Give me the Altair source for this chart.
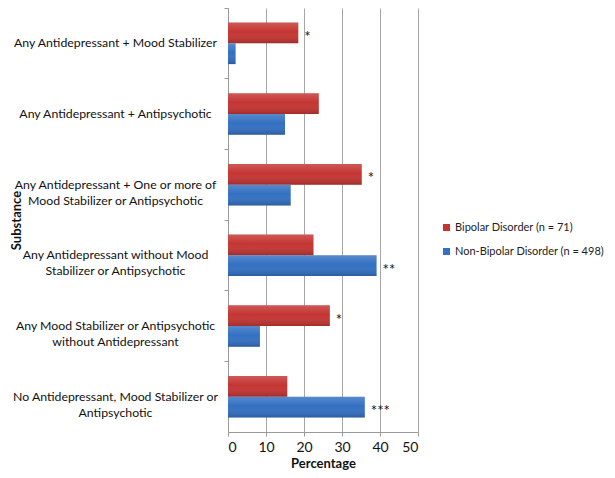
import altair as alt
import pandas as pd

categories = [
    "Any Antidepressant + Mood Stabilizer",
    "Any Antidepressant + Antipsychotic",
    "Any Antidepressant + One or more of\nMood Stabilizer or Antipsychotic",
    "Any Antidepressant without Mood\nStabilizer or Antipsychotic",
    "Any Mood Stabilizer or Antipsychotic\nwithout Antidepressant",
    "No Antidepressant, Mood Stabilizer or\nAntipsychotic",
]
series_names = ["Bipolar Disorder (n = 71)", "Non-Bipolar Disorder (n = 498)"]
bipolar = [18.5, 23.9, 35.2, 22.5, 26.8, 15.6]
non_bipolar = [2.0, 15.0, 16.5, 39.1, 8.4, 36.0]
bipolar_sig = ["*", "", "*", "", "*", ""]
non_bipolar_sig = ["", "", "", "**", "", "***"]
x_ticks = [0, 10, 20, 30, 40, 50]
series_colors = ["#c43532", "#3370c2"]

rows = []
for i, c in enumerate(categories):
    rows.append({"cat": c, "series": series_names[0], "value": bipolar[i], "sig": bipolar_sig[i]})
    rows.append({"cat": c, "series": series_names[1], "value": non_bipolar[i], "sig": non_bipolar_sig[i]})
df = pd.DataFrame(rows)

FONT = "Lato"

y_enc = alt.Y(
    "cat:N",
    sort=categories,
    scale=alt.Scale(paddingInner=0, paddingOuter=0),
    axis=alt.Axis(
        title="Substance",
        titleFont=FONT,
        titleFontSize=13,
        titleFontWeight="bold",
        titleColor="#111",
        titleAngle=-90,
        titleX=-212,
        titleBaseline="middle",
        labelExpr="split(datum.label, '\\n')",
        labelAlign="center",
        labelPadding=109,
        labelFont=FONT,
        labelFontSize=12.3,
        labelLineHeight=16,
        labelColor="#111",
        labelLimit=300,
        bandPosition=0,
        tickSize=4,
        tickColor="#999",
        domainColor="#999",
        grid=False,
    ),
)
yoff_enc = alt.YOffset(
    "series:N", sort=series_names, scale=alt.Scale(paddingInner=0, paddingOuter=0.7)
)
x_enc = alt.X(
    "value:Q",
    scale=alt.Scale(domain=[0, 50]),
    axis=alt.Axis(
        values=x_ticks,
        title="Percentage",
        titleFont=FONT,
        titleFontSize=13,
        titleFontWeight="bold",
        titleColor="#111",
        titlePadding=3,
        labelFont=FONT,
        labelFontSize=14,
        labelColor="#111",
        labelPadding=4,
        tickSize=4,
        tickColor="#999",
        domainColor="#999",
        grid=True,
        gridColor="#a6a6a6",
    ),
)

base = alt.Chart(df)

bars = base.mark_bar().encode(
    y=y_enc,
    yOffset=yoff_enc,
    x=x_enc,
    color=alt.Color(
        "series:N",
        sort=series_names,
        scale=alt.Scale(domain=series_names, range=series_colors),
        legend=alt.Legend(
            title=None,
            orient="none",
            legendX=213,
            legendY=214,
            symbolType="square",
            symbolSize=49,
            symbolStrokeWidth=0,
            labelFont=FONT,
            labelFontSize=11,
            labelColor="#222",
            rowPadding=12,
            labelOffset=3,
            labelLimit=300,
        ),
    ),
)

gloss = base.mark_bar(
    fill=alt.LinearGradient(
        gradient="linear",
        stops=[
            alt.GradientStop(color="rgba(255,255,255,0.18)", offset=0),
            alt.GradientStop(color="rgba(255,255,255,0.0)", offset=0.45),
            alt.GradientStop(color="rgba(0,0,0,0.18)", offset=1),
        ],
        x1=0, x2=0, y1=0, y2=1,
    )
).encode(y=y_enc, yOffset=yoff_enc, x=x_enc)

stars = base.mark_text(
    align="left", baseline="middle", dx=6, dy=4, font=FONT, fontSize=15, color="#111"
).encode(y=y_enc, yOffset=yoff_enc, x=x_enc, text="sig:N")

chart = (
    alt.layer(bars, gloss, stars)
    .properties(
        width=190,
        height=424,
        autosize=alt.AutoSizeParams(type="none"),
        padding={"left": 220, "top": 0, "right": 189, "bottom": 38},
    )
    .configure_view(stroke=None)
)

chart.save("out.html", embed_options={"renderer": "svg", "actions": False})
